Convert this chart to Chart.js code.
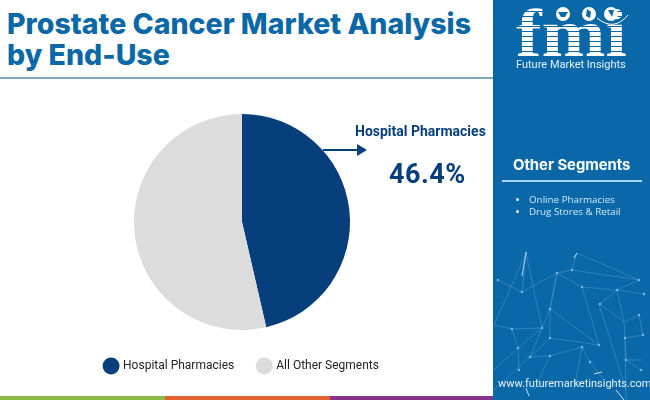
<!DOCTYPE html>
<html>
<head>
<meta charset="utf-8">
<title>Prostate Cancer Market Analysis by End-Use</title>
<script src="https://cdn.jsdelivr.net/npm/chart.js@4"></script>
<style>
html, body { margin: 0; padding: 0; background: #fff; }
#page { position: relative; width: 650px; height: 400px; overflow: hidden; font-family: Roboto, sans-serif; }
#page div { position: absolute; white-space: nowrap; }
#title { left: 7px; top: 8px; font: 800 28.5px/31px Inter, sans-serif; color: #0b68a6; }
#headrule { left: 0; top: 77px; width: 493px; height: 1.5px; background: #7fa8bb; }
#wrap { left: 0; top: 100px; width: 484px; height: 282px; }
#side { left: 493px; top: 0; width: 157px; height: 400px; background: #0b68a8; }
#callout { left: 355px; top: 122px; font: 700 14px/18px Roboto, sans-serif; color: #063f7c; }
#pct { left: 389px; top: 158px; font: 700 27px/32px Roboto, sans-serif; color: #063f7c; letter-spacing: .5px; }
#other { left: 513px; top: 155px; font: 700 14.8px/20px Inter, sans-serif; color: #fff; }
#rule { left: 502px; top: 180px; width: 140px; height: 1.5px; background: #a9d4f5; }
.seg { left: 529px; font: 400 9.8px/13px "Open Sans", sans-serif; color: #cfe8fb; }
.dot { left: 516px; width: 3px; height: 3px; border-radius: 50%; background: #e6f3fc; }
#fmi { left: 516px; top: -3px; font: 700 68px/72px "Liberation Serif", serif; transform-origin: 0 0; transform: scaleX(1.13);
  color: transparent; background: repeating-linear-gradient(#fff 0 4px, #0b68a8 4px 5px); -webkit-background-clip: text; background-clip: text; }
#brand { left: 516px; top: 57px; font: 400 11px/15px Roboto, sans-serif; color: #e4f1fb; }
#url { left: 498px; top: 377px; font: 400 11px/14px Roboto, sans-serif; color: #e4f1fb; }
.band { top: 396px; height: 4px; }
svg { position: absolute; }
</style>
</head>
<body>
<div id="page">
  <div id="title">Prostate Cancer Market Analysis<br>by End-Use</div>
  <div id="headrule"></div>
  <div id="wrap"><canvas id="myChart"></canvas></div>
  <svg style="left:0;top:0" width="490" height="400">
    <path d="M323 150H358" stroke="#063f7c" stroke-width="2"/>
    <path d="M357 144L367 150L357 156Z" fill="#063f7c"/>
  </svg>
  <div id="callout"></div>
  <div id="pct"></div>
  <div class="band" style="left:0;width:165px;background:#8cbb45"></div>
  <div class="band" style="left:165px;width:165px;background:#e0622f"></div>
  <div class="band" style="left:330px;width:165px;background:#86318a"></div>
  <div id="side"></div>
  <svg style="left:494px;top:240px" width="156" height="160" stroke="#5fa6d6" stroke-width=".5" fill="none" opacity=".85">
    <path d="M32 13L28 52L4 40M32 13L0 85M32 13L48 88M28 52L63 33L78 30L145 40L123 50L88 47L63 33M83 13L78 30M83 13L145 40M63 33L56 69L105 105L88 47M63 33L56 69L48 88L18 89L0 85M18 89L24 108L0 130M48 88L24 108M48 88L36 117L56 116L88 107M56 98L105 105M56 69L56 98L36 117M24 108L25 130M106 64L123 50L150 54M106 64L130 82L123 50M130 82L145 75L149 95L131 98L130 82M131 98L132 120L147 130M131 98L132 160M105 64L132 150M88 107L96 122L110 140M88 107L80 150M56 116L40 150M0 150L36 117M149 120L132 120"/>
    <path d="M32 13L28 36" stroke="#cfe8fb" stroke-width="1"/>
    <path d="M83 13L80 18M100 134L108 132M32 148L35 156M122 150L130 160" stroke="#e6f3fc" stroke-width="1"/>
    <g fill="#8fc6ec" stroke="none">
      <circle cx="32" cy="13" r="1.2"/><circle cx="28" cy="52" r="1.2"/><circle cx="4" cy="40" r="1.2"/>
      <circle cx="63" cy="33" r="1.2"/><circle cx="78" cy="30" r="1.2"/><circle cx="145" cy="40" r="1.2"/>
      <circle cx="88" cy="47" r="1.2"/><circle cx="123" cy="50" r="1.2"/><circle cx="150" cy="54" r="1.2"/>
      <circle cx="106" cy="64" r="1.2"/><circle cx="56" cy="69" r="1.2"/><circle cx="145" cy="75" r="1.2"/>
      <circle cx="48" cy="88" r="1.2"/><circle cx="18" cy="89" r="1.2"/><circle cx="56" cy="98" r="1.2"/>
      <circle cx="105" cy="105" r="1.2"/><circle cx="149" cy="95" r="1.2"/><circle cx="131" cy="98" r="1.2"/>
      <circle cx="24" cy="108" r="1.2"/><circle cx="36" cy="117" r="1.2"/><circle cx="56" cy="116" r="1.2"/>
      <circle cx="88" cy="107" r="1.2"/><circle cx="96" cy="122" r="1.2"/><circle cx="132" cy="120" r="1.2"/>
      <circle cx="147" cy="130" r="1.2"/><circle cx="25" cy="130" r="1.2"/>
    </g>
  </svg>
  <div id="fmi">fmi</div>
  <svg style="left:550px;top:0" width="100" height="32">
    <g fill="#fff">
      <circle cx="13" cy="14" r="7"/><circle cx="39" cy="14" r="7"/><circle cx="61" cy="14" r="7"/>
    </g>
    <g fill="#0b68a8">
      <path d="M8 12h10l-3 5h-4z"/><path d="M37 9l4 3-1 6-4-2z"/><path d="M58 10h6l-2 7z"/>
    </g>
    <path d="M47 18Q64 32 78 15" stroke="#fff" stroke-width="1" fill="none"/>
  </svg>
  <div id="brand">Future Market Insights</div>
  <div id="other">Other Segments</div>
  <div id="rule"></div>
  <div class="dot" style="top:198px"></div>
  <div class="dot" style="top:210px"></div>
  <div class="seg" id="seg0" style="top:193px"></div>
  <div class="seg" id="seg1" style="top:205px"></div>
  <div id="url">www.futuremarketinsights.com</div>
</div>
<script>
'use strict';

// values
let categories = ['Hospital Pharmacies', 'All Other Segments'];
let shares = [46.4, 53.6];
let sliceColors = ['#063f7c', '#dcdcdc'];
let otherSegments = ['Online Pharmacies', 'Drug Stores & Retail'];

document.getElementById('callout').textContent = categories[0];
document.getElementById('pct').textContent = shares[0] + '%';
document.getElementById('seg0').textContent = otherSegments[0];
document.getElementById('seg1').textContent = otherSegments[1];

let ctx = document.getElementById('myChart').getContext('2d');

let chart = new Chart(ctx, {
    type: 'pie',
    data: {
        labels: categories,
        datasets: [{
            data: shares,
            backgroundColor: sliceColors,
            borderWidth: 0,
            radius: 108
        }]
    },
    options: {
        responsive: true,
        maintainAspectRatio: false,
        animation: false,
        layout: { padding: { top: 8, bottom: 0 } },
        plugins: {
            tooltip: { enabled: false },
            legend: {
                position: 'bottom',
                labels: {
                    usePointStyle: true,
                    pointStyle: 'circle',
                    boxHeight: 14,
                    padding: 24,
                    color: '#222222',
                    font: { family: 'Roboto', size: 12 }
                }
            }
        }
    }
});
</script>
</body>
</html>
